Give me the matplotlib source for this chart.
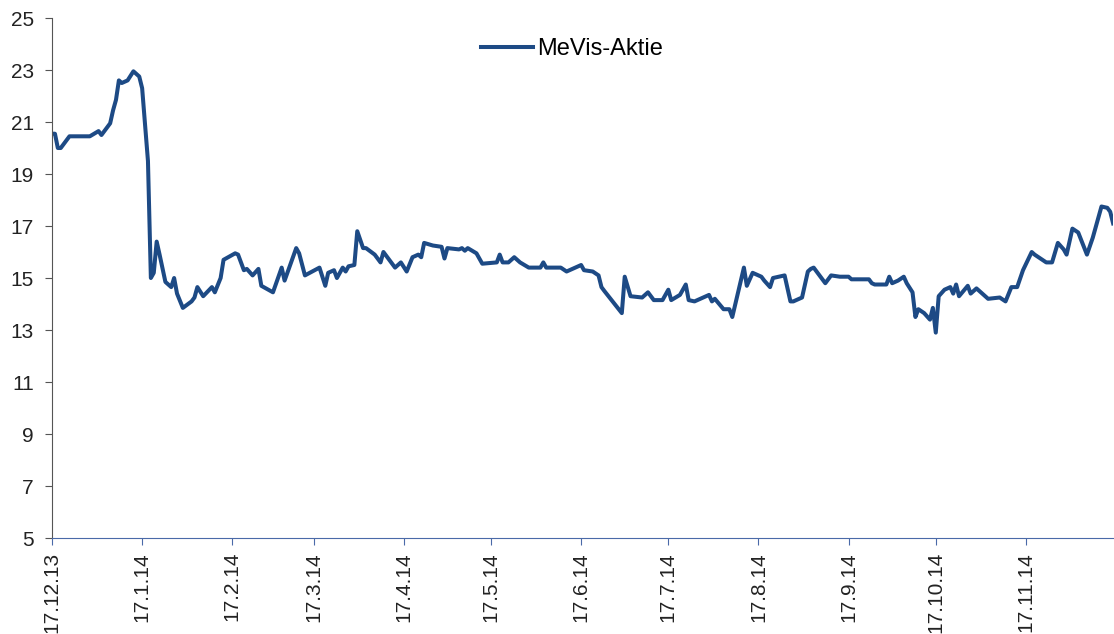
import matplotlib
matplotlib.use('Agg')
import matplotlib.pyplot as plt
import pandas as pd

# Kursverlauf MeVis-Aktie, Tage seit 17.12.2013 und Schlusskurs (EUR)
start = pd.Timestamp('2013-12-17')
days = [0, 1, 2, 3, 6, 13, 16, 17, 20, 21, 22, 23, 24, 26, 28, 30, 31, 33, 34, 35,
        36, 37, 39, 41, 42, 43, 45, 48, 49, 50, 52, 55, 56, 58, 59, 63, 64, 66, 67, 69,
        71, 72, 76, 79, 80, 84, 85, 87, 92, 94, 95, 97, 98, 100, 101, 102, 104, 105, 107, 108,
        111, 113, 114, 116, 118, 120, 122, 124, 126, 127, 128, 131, 134, 135, 136, 140, 141, 142, 143, 146,
        148, 153, 154, 155, 157, 159, 161, 164, 168, 169, 170, 175, 177, 182, 183, 186, 188, 189, 190, 196,
        197, 199, 203, 205, 207, 210, 212, 213, 216, 218, 219, 221, 224, 226, 227, 228, 231, 233, 234, 238,
        239, 241, 244, 245, 247, 248, 252, 254, 255, 258, 260, 261, 262, 266, 268, 271, 274, 275, 281, 282,
        283, 287, 288, 289, 291, 293, 294, 296, 297, 298, 300, 302, 303, 304, 305, 307, 309, 310, 311, 312,
        315, 316, 318, 322, 326, 328, 330, 332, 334, 337, 338, 342, 344, 346, 348, 349, 351, 353, 356, 358,
        361, 363, 364, 365]
price = [20.55, 20.55, 20.0, 20.0, 20.45, 20.45, 20.65, 20.5, 20.95, 21.45, 21.85, 22.6, 22.5, 22.6, 22.95, 22.75, 22.3, 19.5, 15.0, 15.2,
         16.4, 15.9, 14.85, 14.65, 15.0, 14.4, 13.85, 14.1, 14.25, 14.65, 14.3, 14.65, 14.45, 15.0, 15.7, 15.95, 15.9, 15.3, 15.35, 15.1,
         15.35, 14.7, 14.45, 15.4, 14.9, 16.15, 15.95, 15.1, 15.4, 14.7, 15.2, 15.3, 15.0, 15.4, 15.25, 15.45, 15.5, 16.8, 16.15, 16.15,
         15.9, 15.6, 16.0, 15.7, 15.4, 15.6, 15.25, 15.8, 15.9, 15.8, 16.35, 16.25, 16.2, 15.75, 16.15, 16.1, 16.15, 16.05, 16.15, 15.95,
         15.55, 15.6, 15.9, 15.6, 15.6, 15.8, 15.6, 15.4, 15.4, 15.6, 15.4, 15.4, 15.25, 15.5, 15.3, 15.25, 15.1, 14.65, 14.5, 13.65,
         15.05, 14.3, 14.25, 14.45, 14.15, 14.15, 14.55, 14.15, 14.35, 14.75, 14.15, 14.1, 14.25, 14.35, 14.1, 14.2, 13.8, 13.8, 13.5, 15.4,
         14.7, 15.2, 15.05, 14.9, 14.65, 15.0, 15.1, 14.1, 14.1, 14.25, 15.25, 15.35, 15.4, 14.8, 15.1, 15.05, 15.05, 14.95, 14.95, 14.8,
         14.75, 14.75, 15.05, 14.8, 14.9, 15.05, 14.8, 14.45, 13.5, 13.8, 13.65, 13.4, 13.85, 12.9, 14.3, 14.55, 14.65, 14.4, 14.75, 14.3,
         14.7, 14.4, 14.6, 14.2, 14.25, 14.1, 14.65, 14.65, 15.3, 16.0, 15.9, 15.6, 15.6, 16.35, 16.1, 15.9, 16.9, 16.75, 15.9, 16.55,
         17.75, 17.7, 17.55, 17.1]

dates = [start + pd.Timedelta(days=d) for d in days]
tick_dates = pd.date_range('2013-12-17', periods=12, freq=pd.DateOffset(months=1))
tick_labels = [f"{d.day}.{d.month}.{d:%y}" for d in tick_dates]

plt.rcParams['font.family'] = ['Liberation Sans', 'DejaVu Sans']

fig = plt.figure(figsize=(11.14, 6.34), dpi=100)
ax = fig.add_axes([0.0467, 0.1514, 0.9525, 0.8202])

ax.plot(dates, price, color='#1d4a85', linewidth=2.9, label='MeVis-Aktie')

ax.set_ylim(5, 25)
ax.set_yticks(range(5, 26, 2))
ax.set_xlim(start, start + pd.Timedelta(days=365))
ax.set_xticks(tick_dates)
ax.set_xticklabels(tick_labels, rotation=90)

for side in ['top', 'right']:
    ax.spines[side].set_visible(False)
ax.spines['left'].set_color('#555555')
ax.spines['bottom'].set_color('#4a6aa8')
ax.tick_params(axis='both', direction='out', length=5, labelsize=15, colors='#222222', pad=5)
ax.tick_params(axis='x', color='#4a6aa8')
ax.tick_params(axis='y', color='#555555', pad=8)

ax.legend(loc='center', bbox_to_anchor=(0.49, 0.94), frameon=False, fontsize=17,
          handlelength=2.2, handletextpad=0.15)

fig.savefig('out.png', dpi=100)
